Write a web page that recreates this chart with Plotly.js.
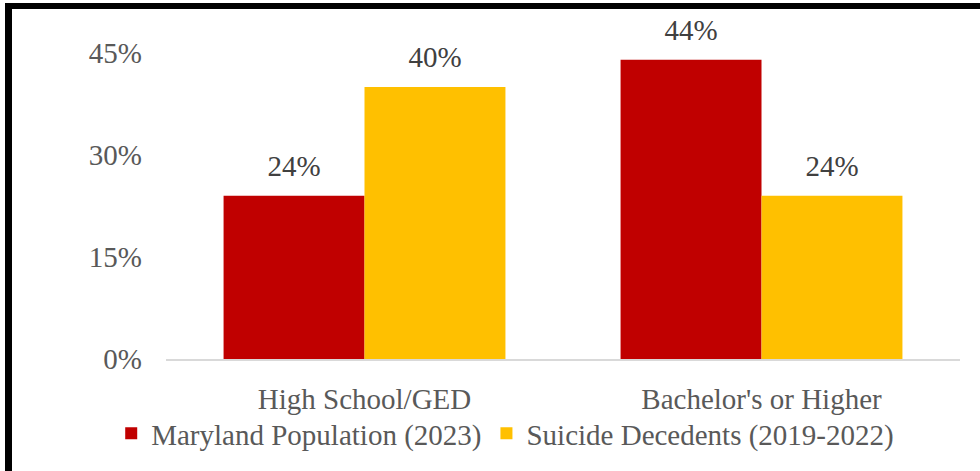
<!DOCTYPE html>
<html>
<head>
<meta charset="utf-8">
<script src="https://cdn.plot.ly/plotly-3.0.1.min.js"></script>
<style>
  html, body { margin: 0; padding: 0; background: #fff; }
  #wrap { position: relative; width: 980px; height: 471px; overflow: hidden; background: #fff; }
  #chart { position: absolute; left: 0; top: 0; width: 980px; height: 471px; }
  #bleft { position: absolute; left: 5px; top: 3px; width: 7px; height: 468px; background: #000; }
  #btop { position: absolute; left: 5px; top: 3px; width: 975px; height: 6px; background: #000; }
</style>
</head>
<body>
<div id="wrap">
  <div id="chart"></div>
  <div id="bleft"></div>
  <div id="btop"></div>
</div>
<script>
const categories = ["High School/GED", "Bachelor's or Higher"];
const seriesNames = ["Maryland Population (2023)", "Suicide Decedents (2019-2022)"];
const marylandValues = [24, 44];
const decedentValues = [40, 24];
const yTicks = [0, 15, 30, 45];
const yTickLabels = ["0%", "15%", "30%", "45%"];

const FONT = "Liberation Serif, Times New Roman, serif";
const FS = 29;
const colors = ["#C00000", "#FFC000"];
const seriesValues = [marylandValues, decedentValues];

const barTraces = seriesValues.map((vals, i) => ({
  type: 'bar',
  name: seriesNames[i],
  x: categories,
  y: vals,
  offsetgroup: 'g' + i,
  alignmentgroup: 'a',
  marker: { color: colors[i] },
  hoverinfo: 'skip'
}));

const labelTraces = seriesValues.map((vals, i) => ({
  type: 'scatter',
  mode: 'markers+text',
  x: categories,
  y: vals,
  offsetgroup: 'g' + i,
  alignmentgroup: 'a',
  orientation: 'v',
  marker: { size: 19, opacity: 0, color: colors[i] },
  text: vals.map(v => v + '%'),
  textposition: 'top center',
  textfont: { family: FONT, size: FS, color: '#404040' },
  cliponaxis: false,
  showlegend: false,
  hoverinfo: 'skip'
}));

const layout = {
  width: 980,
  height: 471,
  margin: { l: 166, r: 20, t: 53, b: 108 },
  paper_bgcolor: 'rgba(0,0,0,0)',
  plot_bgcolor: 'rgba(0,0,0,0)',
  barmode: 'group',
  scattermode: 'group',
  bargap: 0.29,
  bargroupgap: 0,
  font: { family: FONT, size: FS, color: '#595959' },
  showlegend: true,
  legend: {
    orientation: 'h',
    x: -0.069, xanchor: 'left',
    y: -0.243, yanchor: 'middle',
    font: { family: FONT, size: FS, color: '#595959' },
    bgcolor: 'rgba(0,0,0,0)',
    traceorder: 'normal'
  },
  xaxis: {
    showgrid: false,
    showline: true,
    linecolor: '#d9d9d9',
    linewidth: 2,
    ticks: '',
    ticklabelstandoff: 13,
    tickfont: { family: FONT, size: FS, color: '#595959' },
    zeroline: false
  },
  yaxis: {
    range: [0, 45],
    tickvals: yTicks,
    ticktext: yTickLabels,
    showgrid: false,
    zeroline: false,
    showline: false,
    ticks: '',
    ticklabelstandoff: 23,
    tickfont: { family: FONT, size: FS, color: '#595959' }
  }
};

Plotly.newPlot('chart', barTraces.concat(labelTraces), layout, { displayModeBar: false, staticPlot: true });
</script>
</body>
</html>
